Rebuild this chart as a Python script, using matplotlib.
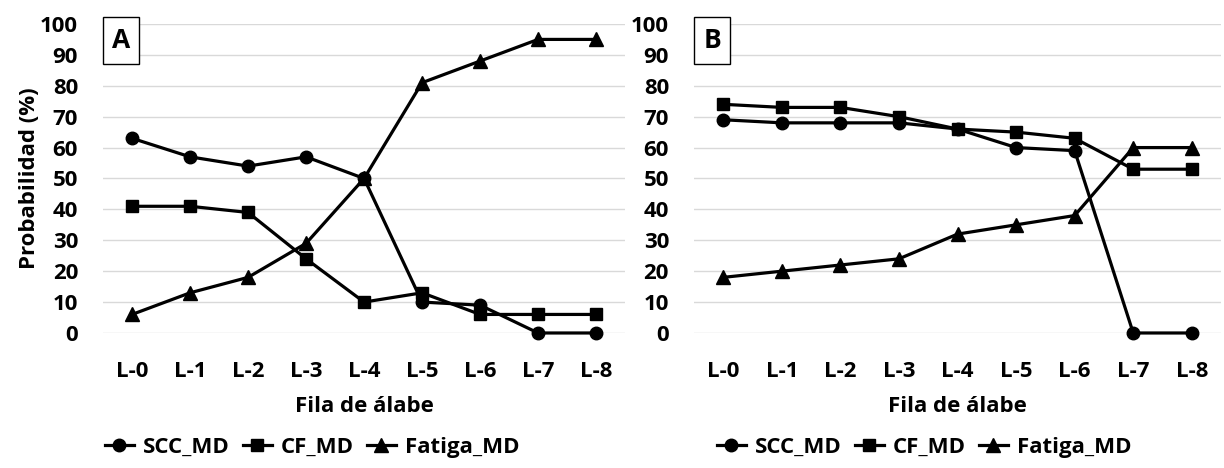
import matplotlib
matplotlib.use("Agg")
import matplotlib.pyplot as plt
from matplotlib.patches import Rectangle

plt.rcParams["font.family"] = ["Open Sans", "DejaVu Sans"]
plt.rcParams["font.weight"] = "bold"

rows = ["L-0", "L-1", "L-2", "L-3", "L-4", "L-5", "L-6", "L-7", "L-8"]
yticks = list(range(0, 101, 10))

# panel A
scc_a = [63, 57, 54, 57, 50, 10, 9, 0, 0]
cf_a = [41, 41, 39, 24, 10, 13, 6, 6, 6]
fat_a = [6, 13, 18, 29, 50, 81, 88, 95, 95]

# panel B
scc_b = [69, 68, 68, 68, 66, 60, 59, 0, 0]
cf_b = [74, 73, 73, 70, 66, 65, 63, 53, 53]
fat_b = [18, 20, 22, 24, 32, 35, 38, 60, 60]

series_names = ["SCC_MD", "CF_MD", "Fatiga_MD"]
markers = ["o", "s", "^"]
msizes = [9, 9, 10]
FS = 16

fig = plt.figure(figsize=(12.24, 4.68), dpi=100)
ax_a = fig.add_axes([0.0842, 0.2885, 0.4265, 0.6603])
ax_b = fig.add_axes([0.567, 0.2885, 0.4306, 0.6603])


def draw_panel(ax, data, letter, legend_x):
    x = list(range(len(rows)))
    handles = []
    for vals, name, m, ms in zip(data, series_names, markers, msizes):
        h, = ax.plot(x, vals, color="black", lw=2.3, marker=m, markersize=ms,
                     label=name, zorder=3, clip_on=False)
        handles.append(h)
    ax.set_xlim(-0.5, len(rows) - 0.5)
    ax.set_ylim(0, 100)
    ax.set_xticks(x)
    ax.set_xticklabels(rows)
    ax.set_yticks(yticks)
    ax.tick_params(axis="both", length=0, labelsize=FS)
    ax.tick_params(axis="x", pad=20)
    ax.tick_params(axis="y", pad=18)
    ax.grid(axis="y", color="#d9d9d9", lw=1)
    ax.set_axisbelow(True)
    for s in ax.spines.values():
        s.set_visible(False)
    ax.set_xlabel("Fila de álabe", fontsize=FS, fontweight="bold", labelpad=10)

    # panel letter in a framed box
    ax.add_patch(Rectangle((0.0, 0.871), 0.069, 0.152, transform=ax.transAxes,
                           fc="white", ec="black", lw=1, clip_on=False, zorder=4))
    ax.text(0.0345, 0.947, letter, transform=ax.transAxes, fontsize=19,
            fontweight="bold", ha="center", va="center", zorder=5)

    fig.legend(handles=handles, loc="center", bbox_to_anchor=(legend_x, 1 - 447 / 468),
               ncol=3, frameon=False, fontsize=FS, handlelength=1.3,
               handletextpad=0.4, columnspacing=0.6, borderpad=0)


draw_panel(ax_a, [scc_a, cf_a, fat_a], "A", 312 / 1224)
draw_panel(ax_b, [scc_b, cf_b, fat_b], "B", 924 / 1224)
ax_a.set_ylabel("Probabilidad (%)", fontsize=FS, fontweight="bold", labelpad=0)

fig.savefig("out.png", dpi=100, facecolor="white")
